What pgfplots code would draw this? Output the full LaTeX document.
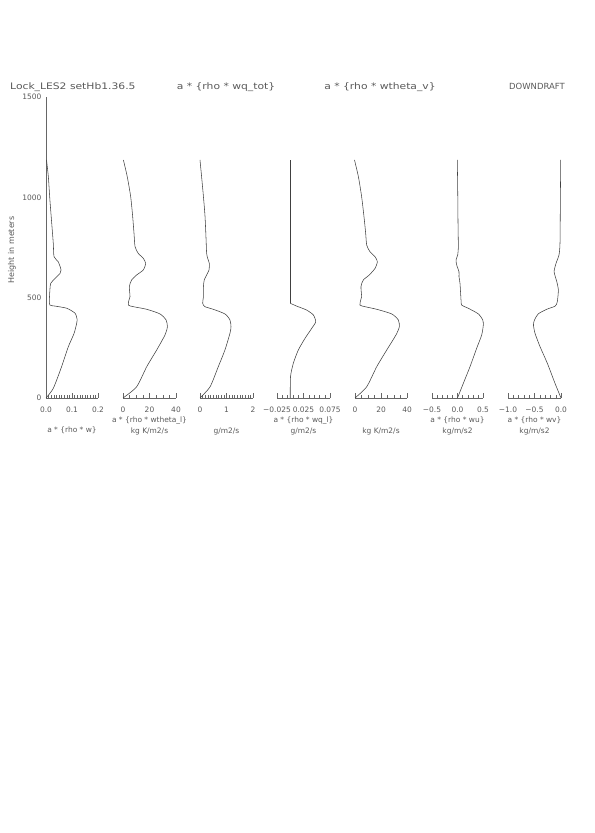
\documentclass[border=0pt]{standalone}
\usepackage{fontspec}
\setmainfont{DejaVu Sans}
\newfontfamily\titlefont[FakeStretch=1.2]{DejaVu Sans}
\usepackage{pgfplots}
\pgfplotsset{compat=1.18}
\definecolor{txt}{gray}{0.35}
\definecolor{ln}{gray}{0.25}
\pgfplotsset{
  prof/.style={
    scale only axis, height=301bp, ymin=0, ymax=1500,
    anchor=south west,
    axis x line*=bottom,
    tick align=inside,
    scaled x ticks=false, scaled y ticks=false,
    major tick length=4.5bp, minor tick length=2.5bp,
    every tick/.style={ln!80, line width=0.4pt},
    axis line style={ln!80, line width=0.45pt},
    xticklabel style={font=\fontsize{7.5}{9}\selectfont, text=txt, anchor=base, yshift=-15bp},
    clip=false,
  },
  noy/.style={hide y axis},
  curve/.style={ln, line width=0.55pt, smooth, tension=0.4, no markers},
}
\begin{document}
\begin{tikzpicture}[x=1bp,y=1bp]
\useasboundingbox (0,0) rectangle (595,833);
% Panel 1
\begin{axis}[prof, at={(46bp,435bp)}, width=52bp, xmin=0, xmax=0.2,
  axis y line*=left, ytick={0,500,1000,1500}, yticklabels={0,500,1000,1500},
  ytick style={draw=none},
  yticklabel style={font=\fontsize{7.5}{9}\selectfont, text=txt, xshift=-1bp},
  xtick={0,0.1,0.2}, xticklabels={0.0,0.1,0.2}, minor x tick num=9]
\addplot[curve] coordinates {(0,0) (0.028,48) (0.060,156) (0.086,256) (0.108,322) (0.118,372) (0.120,389) (0.112,422) (0.080,447) (0.035,458) (0.015,463) (0.013,488) (0.015,538) (0.018,571) (0.035,596) (0.054,621) (0.058,638) (0.047,679) (0.031,704) (0.028,771) (0.022,871) (0.015,987) (0.009,1103) (0.002,1186)};
\end{axis}
% Panel 2
\begin{axis}[prof, noy, at={(123bp,435bp)}, width=53bp, xmin=0, xmax=40,
  xtick={0,20,40}, xticklabels={0,20,40}, minor x tick num=3]
\addplot[curve] coordinates {(0,0) (10.3,56) (17.9,156) (25.4,239) (31.7,314) (33.5,355) (32.5,389) (27.9,419) (17.9,442) (7.8,455) (4.0,463) (4.5,488) (5.3,505) (4.8,555) (6.5,588) (10.3,613) (15.3,638) (17.1,671) (15.3,696) (11.5,721) (9.1,754) (8.3,821) (7.3,904) (5.8,1003) (3.2,1103) (0.3,1186)};
\end{axis}
% Panel 3
\begin{axis}[prof, noy, at={(200bp,435bp)}, width=53bp, xmin=0, xmax=2,
  xtick={0,1,2}, xticklabels={0,1,2}, minor x tick num=9]
\addplot[curve] coordinates {(0,0) (0.38,56) (0.69,156) (0.94,239) (1.13,322) (1.17,355) (1.13,389) (0.94,419) (0.50,442) (0.19,455) (0.10,472) (0.13,505) (0.13,555) (0.16,588) (0.25,613) (0.34,638) (0.35,671) (0.29,696) (0.25,721) (0.23,787) (0.19,904) (0.13,1003) (0.06,1103) (0,1186)};
\end{axis}
% Panel 4
\begin{axis}[prof, noy, at={(277bp,435bp)}, width=53bp, xmin=-0.025, xmax=0.075,
  xtick={-0.025,0.025,0.075}, xticklabels={−0.025,0.025,0.075}, minor x tick num=4]
\addplot[curve] coordinates {(0,0) (0.0005,106) (0.0058,173) (0.0152,239) (0.0278,297) (0.0405,347) (0.048,380) (0.0435,414) (0.031,438) (0.012,458) (0,472)};
\addplot[ln, line width=0.55pt, no markers] coordinates {(0,472) (0,1186)};
\end{axis}
% Panel 5
\begin{axis}[prof, noy, at={(355bp,435bp)}, width=52bp, xmin=0, xmax=40,
  xtick={0,20,40}, xticklabels={0,20,40}, minor x tick num=3]
\addplot[curve] coordinates {(0,0) (9.0,56) (16.7,156) (24.4,239) (31.5,314) (34.1,355) (33.3,389) (28.2,419) (16.7,442) (7.7,455) (3.8,463) (4.4,488) (5.1,505) (4.6,555) (6.4,588) (11.0,613) (15.4,646) (17.2,679) (15.4,704) (11.5,729) (9.0,762) (8.2,821) (6.9,904) (5.1,1003) (2.6,1103) (-0.4,1186)};
\end{axis}
% Panel 6
\begin{axis}[prof, noy, at={(432bp,435bp)}, width=51bp, xmin=-0.5, xmax=0.5,
  xtick={-0.5,0,0.5}, xticklabels={−0.5,0.0,0.5}, minor x tick num=4]
\addplot[curve] coordinates {(0,0) (0.114,73) (0.245,156) (0.376,248) (0.474,314) (0.506,364) (0.494,389) (0.408,419) (0.212,447) (0.082,463) (0.069,488) (0.049,571) (0.029,605) (0.029,629) (-0.016,663) (-0.029,688) (0.004,713) (0.016,754) (0.01,871) (0.004,1036) (-0.004,1186)};
\end{axis}
% Panel 7
\begin{axis}[prof, noy, at={(508bp,435bp)}, width=53bp, xmin=-1, xmax=0,
  xtick={-1,-0.5,0}, xticklabels={−1.0,−0.5,0.0}, minor x tick num=4]
\addplot[curve] coordinates {(0,0) (-0.113,73) (-0.258,173) (-0.396,256) (-0.49,322) (-0.52,364) (-0.50,389) (-0.43,419) (-0.27,442) (-0.11,458) (-0.07,480) (-0.05,538) (-0.08,580) (-0.13,629) (-0.094,671) (-0.038,713) (-0.019,771) (-0.013,953) (-0.006,1186)};
\end{axis}
% Titles
\begin{scope}[every node/.style={text=txt, inner sep=0pt}]
\node[anchor=base west, font=\titlefont\fontsize{9}{10}\selectfont] at (10,743) {Lock\_LES2 setHb1.36.5};
\node[anchor=base, font=\titlefont\fontsize{9}{10}\selectfont] at (226,743) {a * \{rho * wq\_tot\}};
\node[anchor=base, font=\titlefont\fontsize{9}{10}\selectfont] at (380,743) {a * \{rho * wtheta\_v\}};
\node[anchor=base east, font=\fontsize{8.5}{10}\selectfont] at (565,743) {DOWNDRAFT};
\node[rotate=90, font=\fontsize{8}{10}\selectfont] at (12,583) {Height in meters};
% x labels
\begin{scope}[every node/.append style={font=\fontsize{7.5}{9}\selectfont, anchor=base}]
\node at (72,400) {a * \{rho * w\}};
\node at (149.5,410) {a * \{rho * wtheta\_l\}};
\node at (149.5,399) {kg K/m2/s};
\node at (226.5,399) {g/m2/s};
\node at (303.5,410) {a * \{rho * wq\_l\}};
\node at (303.5,399) {g/m2/s};
\node at (381,399) {kg K/m2/s};
\node at (457.5,410) {a * \{rho * wu\}};
\node at (457.5,399) {kg/m/s2};
\node at (534.5,410) {a * \{rho * wv\}};
\node at (534.5,399) {kg/m/s2};
\end{scope}
\end{scope}
\end{tikzpicture}
\end{document}
